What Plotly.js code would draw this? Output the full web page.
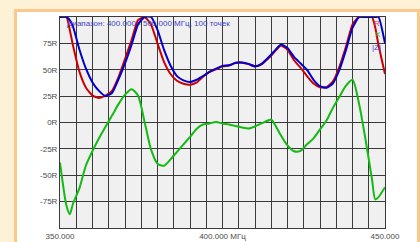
<!DOCTYPE html>
<html>
<head>
<meta charset="utf-8">
<script src="https://cdn.plot.ly/plotly-3.0.1.min.js"></script>
<style>
  html, body { margin: 0; padding: 0; width: 420px; height: 242px; overflow: hidden; background: #fdf1d6; }
  #frame { position: absolute; left: 14px; top: 9px; width: 400px; height: 240px;
           border: 3px solid #fdc98a; border-bottom: none; background: #ffffff; }
  #chart { position: absolute; left: 0; top: 0; width: 420px; height: 242px; }
</style>
</head>
<body>
<div id="frame"></div>
<div id="chart"></div>
<script>
// Frequency, MHz
const freq = [350, 352, 353, 354, 356, 358, 360, 362, 364, 366, 368, 370, 372, 374, 376, 378, 380,
              382, 384, 386, 388, 390, 392, 394, 396, 398, 400, 402, 404, 406, 408, 410, 412, 414,
              415, 416, 418, 420, 422, 424, 426, 428, 430, 432, 434, 436, 438, 440, 442, 444, 446,
              447, 448, 450];
// R (red)
const seriesR = [100, 100, 88, 73, 48, 33, 25.5, 23.3, 25.5, 30, 43, 60, 78, 97, 100, 93, 75,
                 57.5, 46, 39.6, 36.8, 35.8, 37.7, 43.4, 48, 50.5, 53.2, 54, 56.3, 56.6, 55.3, 53, 55, 60.5,
                 63.5, 67, 73, 69, 59, 52, 44, 37, 33.5, 33.5, 39, 53, 72, 93, 100, 100, 100,
                 90, 73.5, 46];
// X (green)
const seriesX = [-38, -79, -87, -77, -62, -40.5, -27, -15, -4, 6.6, 17.4, 26.4, 31.6, 25.5, 1, -25.5, -39,
                 -41, -35, -27.8, -20.7, -13.7, -6.1, -1.9, -0.9, 0.5, -0.9, -1.9, -3.3, -4.7, -5.7, -3.8, -0.9, 1.9,
                 2.8, -1.4, -12.3, -21.7, -27.3, -26.9, -20.7, -15, -6.6, 1.9, 14.1, 24.5, 34.9, 40.5, 18, -16, -53.8,
                 -72.9, -70.7, -61.3];
// |Z| (blue)
const seriesZ = [100, 100, 97, 91, 69, 51, 38, 30, 25, 28, 41, 56, 73.5, 93, 100, 100, 87.7,
                 69, 54, 44, 40, 38.4, 40.5, 44, 48, 51, 53.7, 54.2, 56.6, 56.9, 55.6, 53.3, 55.6, 61.3,
                 64.5, 67.9, 74, 70.7, 62.2, 56.1, 50, 40.5, 34.4, 33, 37.2, 50, 68.8, 89.6, 100, 100, 100,
                 100, 100, 75];

const xGrid = [];
for (let v = 350; v <= 450; v += 5) xGrid.push(v);
const xTickText = xGrid.map(v => v === 350 ? '350.000' : v === 400 ? '400.000 МГц' : v === 450 ? '450.000' : '');
const yGrid = [-100, -75, -50, -25, 0, 25, 50, 75, 100];
const yTickText = ['', '-75R', '-50R', '-25R', '0R', '25R', '50R', '75R', ''];

const titleText = 'Диапазон: 400.000 - 500.000 МГц, 100 точек';
const legendNames = ['R', 'X', '|Z|'];

const traces = [
  { x: freq, y: seriesX, mode: 'lines', line: { color: '#11bb11', width: 2, shape: 'spline', smoothing: 0.7 }, name: legendNames[1], hoverinfo: 'skip' },
  { x: freq, y: seriesR, mode: 'lines', line: { color: '#cc0000', width: 2, shape: 'spline', smoothing: 0.5 }, name: legendNames[0], hoverinfo: 'skip' },
  { x: freq, y: seriesZ, mode: 'lines', line: { color: '#0000cc', width: 2, shape: 'spline', smoothing: 0.5 }, name: legendNames[2], hoverinfo: 'skip' }
];

const tickFont = { family: 'Liberation Sans, Arial, sans-serif', size: 8, color: '#4a4a4a' };
const annFont = (c) => ({ family: 'Liberation Sans, Arial, sans-serif', size: 8, color: c });

const layout = {
  width: 420, height: 242,
  margin: { l: 60, r: 35, t: 17, b: 14, pad: 0 },
  paper_bgcolor: 'rgba(0,0,0,0)',
  plot_bgcolor: '#f0f0f0',
  showlegend: false,
  xaxis: {
    range: [350, 450], tickmode: 'array', tickvals: xGrid, ticktext: xTickText,
    showgrid: true, gridcolor: '#3a3a3a', gridwidth: 1, zeroline: false,
    showline: true, linecolor: '#3a3a3a', linewidth: 1, mirror: true,
    ticks: '', tickfont: tickFont, fixedrange: true
  },
  yaxis: {
    range: [-100, 100], tickmode: 'array', tickvals: yGrid, ticktext: yTickText,
    showgrid: true, gridcolor: '#3a3a3a', gridwidth: 1, zeroline: false,
    showline: true, linecolor: '#3a3a3a', linewidth: 1, mirror: true,
    ticks: '', tickfont: tickFont, fixedrange: true
  },
  annotations: [
    { xref: 'paper', yref: 'paper', x: 0.015, y: 1, xanchor: 'left', yanchor: 'top',
      text: titleText, showarrow: false, font: annFont('#3f3fc0') },
    { xref: 'x', yref: 'y', x: 447.6, y: 94, text: legendNames[0], showarrow: false, font: annFont('#d84040') },
    { xref: 'x', yref: 'y', x: 447.8, y: 83.5, text: legendNames[1], showarrow: false, font: annFont('#33bb33') },
    { xref: 'x', yref: 'y', x: 447.3, y: 71.5, text: legendNames[2], showarrow: false, font: annFont('#3f3fd0') }
  ]
};

Plotly.newPlot('chart', traces, layout, { staticPlot: true, displayModeBar: false });
</script>
</body>
</html>
